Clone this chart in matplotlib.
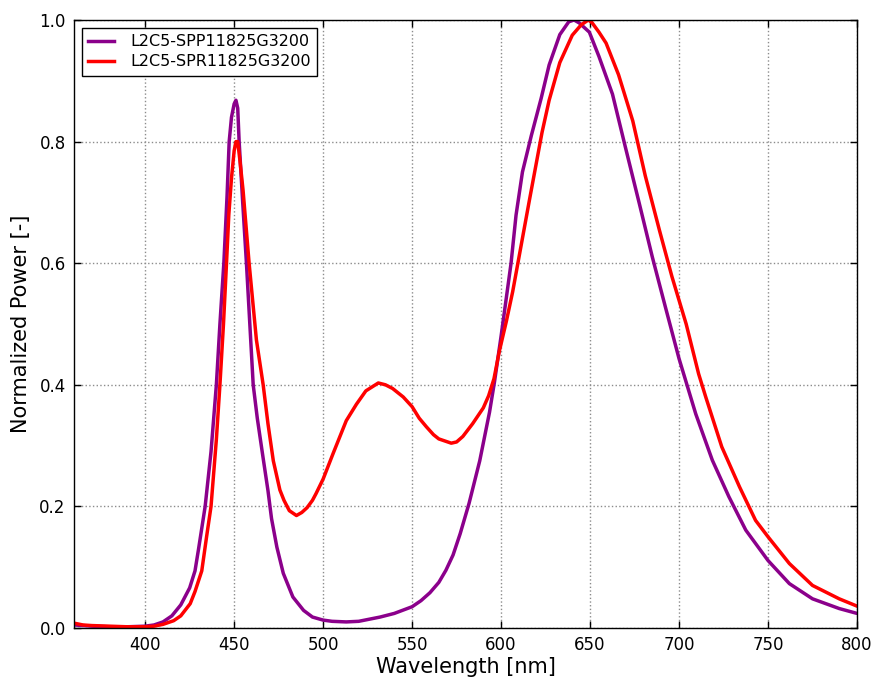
import numpy as np
import matplotlib
matplotlib.use("Agg")
import matplotlib.pyplot as plt

# values
wl_spp = [360, 370, 380, 390, 400, 405, 410, 415, 420, 425, 428, 430, 433.7, 437, 440,
          442, 444.2, 446, 447.2, 448.5, 450, 451, 452, 452.8, 454.8, 456.9, 458.8,
          460.7, 463, 466, 469, 471, 474, 477.6, 483, 489, 494, 500, 505, 513, 520,
          532, 540, 550, 555, 560, 565, 569, 573, 577, 582, 588, 593.5, 596.3, 600,
          605.6, 608.4, 612, 617, 622.5, 627, 633, 638, 641, 644, 649.6, 655, 662.6,
          670, 677.6, 685, 692.5, 700, 709.4, 718.7, 728, 737.5, 750, 762, 775, 790,
          800]
pw_spp = [0.005, 0.003, 0.002, 0.002, 0.003, 0.005, 0.010, 0.020, 0.038, 0.066, 0.094,
          0.130, 0.200, 0.290, 0.400, 0.500, 0.600, 0.710, 0.800, 0.840, 0.862, 0.868,
          0.855, 0.800, 0.700, 0.600, 0.500, 0.400, 0.345, 0.285, 0.226, 0.180, 0.133,
          0.090, 0.051, 0.029, 0.018, 0.013, 0.011, 0.010, 0.011, 0.018, 0.024, 0.035,
          0.045, 0.058, 0.075, 0.095, 0.120, 0.155, 0.205, 0.275, 0.355, 0.405, 0.480,
          0.600, 0.679, 0.750, 0.810, 0.871, 0.926, 0.976, 0.997, 1.000, 0.995, 0.980,
          0.940, 0.878, 0.789, 0.699, 0.610, 0.526, 0.443, 0.352, 0.276, 0.216, 0.161,
          0.111, 0.073, 0.048, 0.032, 0.024]

wl_spr = [360, 365, 370, 380, 390, 400, 405, 410, 416, 420, 425.3, 428, 431.8, 434.5,
          437, 440, 442, 444, 445.7, 447, 448.5, 450, 451, 452, 453.2, 455, 458.4,
          462.5, 466.3, 469, 472, 475.7, 478, 481, 485, 488, 491, 494, 496, 500,
          505.6, 513, 518.7, 524, 531, 535, 539, 545, 550, 554, 558, 562, 565, 572,
          575, 578.5, 584, 590, 593, 596, 599, 603, 606.5, 611, 616, 623, 627, 633,
          640, 645, 649, 651, 655, 659, 666, 674, 681, 689, 696, 704, 711, 715, 724,
          734, 743, 750, 762, 775, 790, 800]
pw_spr = [0.008, 0.005, 0.004, 0.003, 0.002, 0.002, 0.003, 0.006, 0.012, 0.020, 0.040,
          0.060, 0.094, 0.150, 0.200, 0.310, 0.400, 0.500, 0.600, 0.680, 0.740, 0.785,
          0.800, 0.800, 0.770, 0.720, 0.600, 0.474, 0.400, 0.336, 0.275, 0.227, 0.210,
          0.193, 0.185, 0.190, 0.198, 0.210, 0.221, 0.245, 0.287, 0.341, 0.368, 0.390,
          0.403, 0.400, 0.394, 0.380, 0.364, 0.345, 0.331, 0.318, 0.311, 0.304, 0.306,
          0.315, 0.336, 0.362, 0.382, 0.410, 0.455, 0.505, 0.553, 0.625, 0.705, 0.815,
          0.868, 0.930, 0.975, 0.992, 1.000, 0.996, 0.980, 0.962, 0.910, 0.834, 0.744,
          0.654, 0.578, 0.500, 0.418, 0.380, 0.298, 0.232, 0.177, 0.150, 0.106, 0.070,
          0.048, 0.036]

names = ["L2C5-SPP11825G3200", "L2C5-SPR11825G3200"]
x_ticks = [400, 450, 500, 550, 600, 650, 700, 750, 800]
y_ticks = [0.0, 0.2, 0.4, 0.6, 0.8, 1.0]

fig = plt.figure(figsize=(8.78, 6.77), dpi=100)
ax = fig.add_axes([74 / 878, 49 / 677, 783 / 878, 608 / 677])

ax.plot(wl_spp, pw_spp, color="#8B008B", lw=2.5, label=names[0])
ax.plot(wl_spr, pw_spr, color="#FF0000", lw=2.5, label=names[1])

ax.set_xlim(360, 800)
ax.set_ylim(0, 1.0)
ax.set_xticks(x_ticks)
ax.set_yticks(y_ticks)
ax.tick_params(direction="in", top=True, right=True, length=5, width=1, labelsize=12, pad=6)
ax.grid(True, color="0.55", linestyle=":", lw=1)
for s in ax.spines.values():
    s.set_linewidth(1)

ax.set_xlabel("Wavelength [nm]", fontsize=15, labelpad=2)
ax.set_ylabel("Normalized Power [-]", fontsize=15, labelpad=6)

leg = ax.legend(loc="upper left", fontsize=11.5, fancybox=False, edgecolor="black",
                framealpha=1, handlelength=1.6, handletextpad=1.0, borderpad=0.4,
                labelspacing=0.3, bbox_to_anchor=(0.0, 1.0), borderaxespad=0.5)
leg.get_frame().set_linewidth(1)

fig.savefig("out.png", dpi=100, facecolor="white")
